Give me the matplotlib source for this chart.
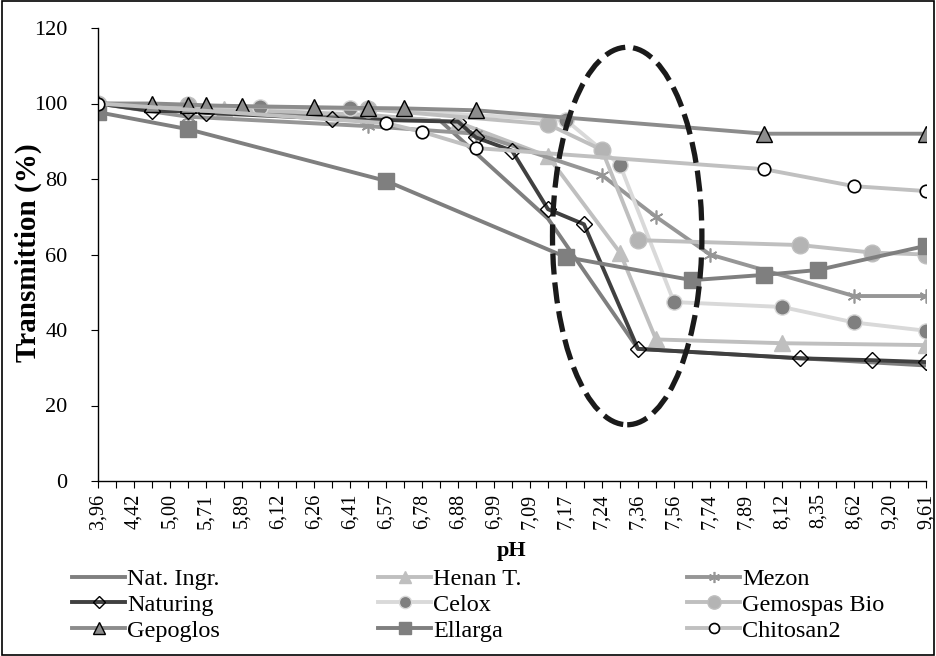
import matplotlib
matplotlib.use("Agg")
import matplotlib.pyplot as plt
from matplotlib.lines import Line2D
from matplotlib.patches import Ellipse, Rectangle

plt.rcParams["font.family"] = ["Liberation Serif", "DejaVu Serif"]

# pH categories (only every second one carries a label)
ph_labels = ["3,96", "4,42", "5,00", "5,71", "5,89", "6,12", "6,26", "6,41",
             "6,57", "6,78", "6,88", "6,99", "7,09", "7,17", "7,24", "7,36",
             "7,56", "7,74", "7,89", "8,12", "8,35", "8,62", "9,20", "9,61"]
n_cat = 2 * len(ph_labels) - 1

# each series: category index where it was measured, transmittance (%)
nat_ingr_idx = [0, 19, 25, 30, 46]
nat_ingr_val = [100, 95.5, 69.5, 35, 30.6]

henan_idx = [0, 7, 15, 20, 25, 29, 31, 38, 46]
henan_val = [100, 98.5, 97, 95, 86, 60.5, 37.5, 36.5, 36]

mezon_idx = [0, 5, 15, 21, 28, 31, 34, 42, 46]
mezon_val = [100, 96.5, 94, 92, 81, 70, 60, 49, 49]

naturing_idx = [0, 3, 5, 6, 13, 17, 20, 21, 23, 25, 27, 30, 39, 43, 46]
naturing_val = [100, 98, 98, 97.5, 96, 95.5, 95.2, 91, 87.5, 72, 68, 35, 32.5, 32, 31.5]

celox_idx = [0, 9, 14, 26, 29, 32, 38, 42, 46]
celox_val = [100, 99, 98.8, 95.6, 83.7, 47.4, 46.1, 42, 39.8]

gemospas_idx = [0, 5, 15, 25, 28, 30, 39, 43, 46]
gemospas_val = [100, 99.5, 98.5, 94.5, 87.7, 63.8, 62.5, 60.5, 60]

gepoglos_idx = [0, 3, 5, 6, 8, 12, 15, 17, 21, 37, 46]
gepoglos_val = [100, 100, 99.7, 99.5, 99.3, 99, 98.8, 98.7, 98.2, 92, 92]

ellarga_idx = [0, 5, 16, 26, 33, 37, 40, 46]
ellarga_val = [97.7, 93.2, 79.5, 59.3, 53.2, 54.6, 55.9, 62.3]

chitosan_idx = [0, 16, 18, 21, 37, 42, 46]
chitosan_val = [100, 94.8, 92.5, 88.2, 82.6, 78.1, 76.8]

series = [
    ("Nat. Ingr.", nat_ingr_idx, nat_ingr_val,
     dict(color="#7f7f7f", marker="None")),
    ("Henan T.", henan_idx, henan_val,
     dict(color="#bfbfbf", marker="^", ms=11, mfc="#bfbfbf", mec="#bfbfbf")),
    ("Mezon", mezon_idx, mezon_val,
     dict(color="#969696", marker=(6, 2, 0), ms=10, mec="#969696", mew=1.2)),
    ("Naturing", naturing_idx, naturing_val,
     dict(color="#404040", marker="D", ms=8, mfc="none", mec="black", mew=1.0,
          markevery=[0, 1, 2, 3, 4, 6, 7, 8, 9, 10, 11, 12, 13, 14])),
    ("Celox", celox_idx, celox_val,
     dict(color="#d9d9d9", marker="o", ms=11, mfc="#7f7f7f", mec="#d9d9d9")),
    ("Gemospas Bio", gemospas_idx, gemospas_val,
     dict(color="#bfbfbf", marker="o", ms=12, mfc="#b4b4b4", mec="#bfbfbf")),
    ("Gepoglos", gepoglos_idx, gepoglos_val,
     dict(color="#8c8c8c", marker="^", ms=11, mfc="#8c8c8c", mec="black", mew=1.0)),
    ("Ellarga", ellarga_idx, ellarga_val,
     dict(color="#7f7f7f", marker="s", ms=11, mfc="#7f7f7f", mec="#7f7f7f")),
    ("Chitosan2", chitosan_idx, chitosan_val,
     dict(color="#c0c0c0", marker="o", ms=9, mfc="white", mec="black", mew=1.2)),
]

W, H = 936, 656
fig = plt.figure(figsize=(W / 100, H / 100), dpi=100)
ax = fig.add_axes([98 / W, 1 - 481 / H, 828 / W, 453 / H])

handles = {}
for name, idx, val, style in series:
    (h,) = ax.plot(idx, val, lw=2.8, label=name, solid_capstyle="butt", **style)
    handles[name] = h

# highlighted transition zone
ax.add_patch(Ellipse((29.4, 64.9), 8.3, 100, fill=False, ec="#1a1a1a",
                     lw=3.8, linestyle=(0, (4, 1.5)), zorder=10))

ax.set_xlim(0, n_cat - 1)
ax.set_ylim(0, 120)
ax.set_yticks(range(0, 121, 20))
ax.set_xticks(range(n_cat))
xlabels = []
for i in range(n_cat):
    xlabels.append(ph_labels[i // 2] if i % 2 == 0 else "")
ax.set_xticklabels(xlabels, rotation=90, fontsize=14.5)
ax.tick_params(axis="y", labelsize=16, length=5, direction="out", pad=17)
ax.tick_params(axis="x", length=5, direction="out", pad=4)
for s in ["top", "right"]:
    ax.spines[s].set_visible(False)
for s in ["left", "bottom"]:
    ax.spines[s].set_linewidth(1.0)

fig.text(28 / W, 1 - 253 / H, "Transmittion (%)", rotation=90, ha="center",
         va="center", fontsize=21, fontweight="bold")
fig.text(512 / W, 1 - 551 / H, "pH", ha="center", va="center",
         fontsize=16, fontweight="bold")

# legend laid out in three columns, row-wise like the original
columns = [["Nat. Ingr.", "Naturing", "Gepoglos"],
           ["Henan T.", "Celox", "Ellarga"],
           ["Mezon", "Gemospas Bio", "Chitosan2"]]
col_x = [72, 378, 687]
for cx, names in zip(col_x, columns):
    hs = []
    for n in names:
        src = handles[n]
        hs.append(Line2D([], [], color=src.get_color(), lw=2.8,
                         marker=src.get_marker(), ms=src.get_markersize() * 0.8,
                         mfc=src.get_markerfacecolor(), mec=src.get_markeredgecolor(),
                         mew=src.get_markeredgewidth()))
    fig.legend(hs, names, loc="upper left", bbox_to_anchor=(cx / W, 1 - 568 / H),
               frameon=False, fontsize=17.5, handlelength=2.2, handletextpad=0.08,
               labelspacing=0.16, borderpad=0, borderaxespad=0)

# outer chart frame
fig.add_artist(Rectangle((0.002, 0.002), 0.996, 0.996, transform=fig.transFigure,
                         fill=False, ec="black", lw=1.2))

fig.savefig("out.png", dpi=100)
